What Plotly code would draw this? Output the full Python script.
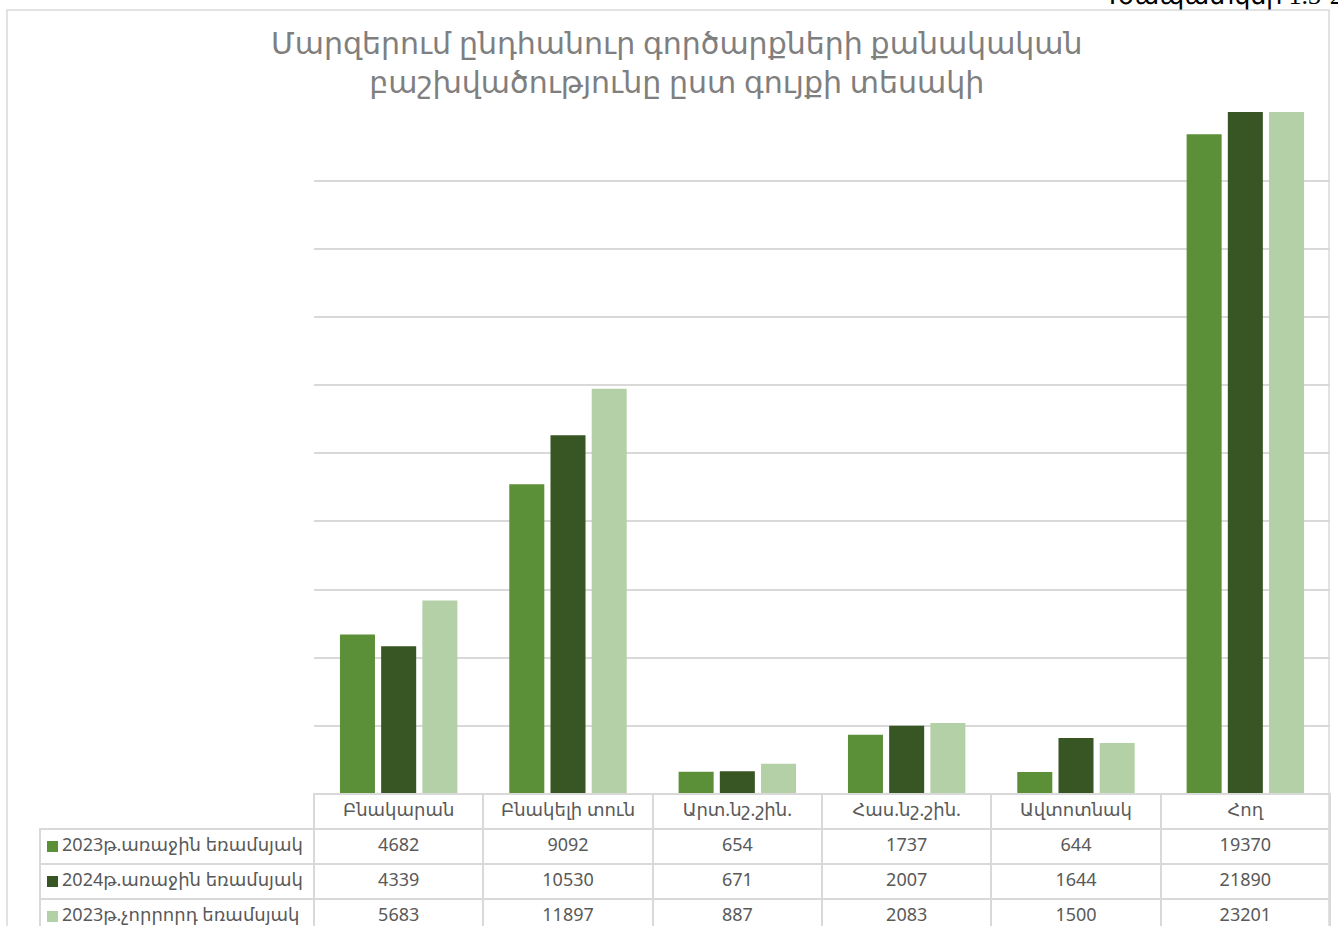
import plotly.graph_objects as go

# ---------------- data ----------------
categories = ["Բնակարան", "Բնակելի տուն", "Արտ.նշ.շին.", "Հաս.նշ.շին.", "Ավտոտնակ", "Հող"]
series_names = ["2023թ.առաջին եռամսյակ", "2024թ.առաջին եռամսյակ", "2023թ.չորրորդ եռամսյակ"]
q1_2023 = [4682, 9092, 654, 1737, 644, 19370]
q1_2024 = [4339, 10530, 671, 2007, 1644, 21890]
q4_2023 = [5683, 11897, 887, 2083, 1500, 23201]
series_colors = ["#5B8F38", "#375623", "#B4D0A7"]
title_lines = ["Մարզերում ընդհանուր գործարքների քանակական", "բաշխվածությունը ըստ գույքի տեսակի"]
corner_label = "Գծապատկեր 1.3-2"
y_max = 20000
y_step = 2000

# ---------------- layout helpers ----------------
W, H = 1338, 940
ROW = 35
def px(x):
    return x / W
def py(y):
    return 1 - y / H

NB = "\u00a0"
grid = "#D9D9D9"
clear = "rgba(0,0,0,0)"
sans = "Noto Sans, DejaVu Sans, sans-serif"
text_font = dict(family=sans, size=18, color="#595959")

series = [q1_2023, q1_2024, q4_2023]

fig = go.Figure()
for name, vals, col in zip(series_names, series, series_colors):
    fig.add_trace(go.Bar(
        x=categories, y=vals, name=name,
        marker=dict(color=col, line=dict(width=0)),
        showlegend=False,
    ))

# legend keys of the data table (coloured squares in the first column)
fig.add_trace(go.Scatter(
    x=[0] * len(series_names), y=series_names, mode="markers",
    marker=dict(symbol="square", size=11, color=series_colors, line=dict(width=0)),
    xaxis="x2", yaxis="y2", showlegend=False, hoverinfo="skip",
))

def table_row(values, x0, x1, top, widths, aligns):
    return go.Table(
        domain=dict(x=[px(x0), px(x1)], y=[py(top + ROW), py(top)]),
        columnwidth=widths,
        header=dict(values=values, height=ROW, align=aligns,
                    fill_color=clear, line=dict(color=grid, width=2), font=text_font),
        cells=dict(values=[[] for _ in values], height=ROW,
                   fill_color=clear, line=dict(color=grid, width=2), font=text_font),
    )

# category row of the data table
fig.add_trace(table_row(categories, 314, 1330, 794, [1] * len(categories),
                        ["center"] * len(categories)))

# one table row per series
col_w = [274] + [169.3] * len(categories)
aligns = ["left"] + ["center"] * len(categories)
for k, (name, vals) in enumerate(zip(series_names, series)):
    label = NB * 3 + name.replace(" ", NB)
    fig.add_trace(table_row([label] + [str(v) for v in vals], 40, 1330,
                            794 + ROW * (k + 1), col_w, aligns))

fig.update_layout(
    width=W, height=H,
    margin=dict(l=0, r=0, t=0, b=0),
    paper_bgcolor="white", plot_bgcolor="white",
    barmode="group", bargap=0.27, bargroupgap=0.15,
    xaxis=dict(domain=[px(314), px(1330)], showticklabels=False, showgrid=False,
               zeroline=False, ticks="", showline=False),
    yaxis=dict(domain=[py(794), py(112)], range=[0, y_max * 1.001], dtick=y_step,
               showticklabels=False, showgrid=True, gridcolor=grid, gridwidth=2,
               zeroline=False, ticks="", showline=False),
    xaxis2=dict(domain=[px(40), px(314)], range=[-12.5, 261.5], visible=False, anchor="y2"),
    yaxis2=dict(domain=[py(794 + ROW * 4), py(794 + ROW)], range=[2.5, -0.5], type="category",
                visible=False, anchor="x2"),
    shapes=[dict(type="rect", xref="paper", yref="paper",
                 x0=px(7), x1=px(1329), y0=-0.05, y1=py(10),
                 line=dict(color=grid, width=1.5), fillcolor=clear, layer="below")],
    annotations=[
        dict(text="<br>".join(title_lines), x=px(677), y=py(62), xref="paper", yref="paper",
             xanchor="center", yanchor="middle", showarrow=False,
             font=dict(family=sans, size=30, color="#7F7F7F")),
        dict(text=corner_label, x=px(1345), y=py(12), xref="paper", yref="paper",
             xanchor="right", yanchor="bottom", showarrow=False,
             font=dict(family="Liberation Serif, serif", size=26, color="#000000")),
    ],
)

fig.write_html("out.html", config={"displayModeBar": False},
               post_script="document.body.style.margin='0';document.body.style.overflow='hidden';")
